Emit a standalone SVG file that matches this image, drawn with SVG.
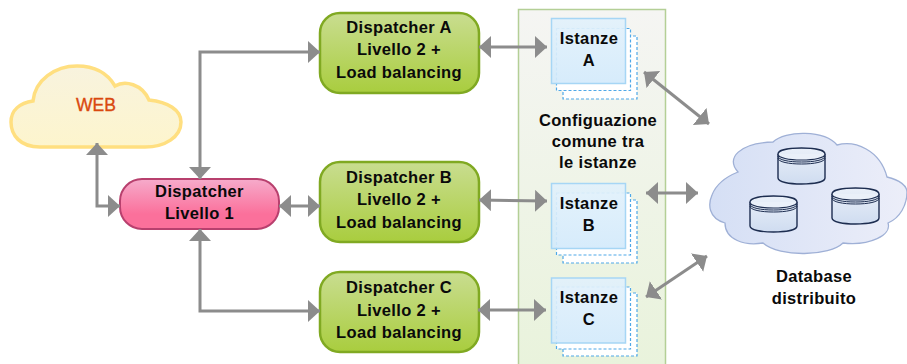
<svg xmlns="http://www.w3.org/2000/svg" width="907" height="364" viewBox="0 0 907 364">
<style>
text{font-family:"Liberation Sans",Arial,sans-serif;text-anchor:middle;fill:#0a0a0a;font-size:16.5px;font-weight:bold;letter-spacing:.35px}
.g{fill:url(#gGreen);stroke:#80a922;stroke-width:2.5}
.conn{fill:none;stroke:#8c8c8c;stroke-width:3;marker-start:url(#ah);marker-end:url(#ah)}
.dash{fill:#fff;stroke:#4ea8e8;stroke-width:1.2;stroke-dasharray:3 2}
.box{fill:url(#gBlue);fill-opacity:.92;stroke:#a6d6f5;stroke-width:1.5}
</style>
<defs>
<linearGradient id="gGreen" x1="0" y1="0" x2="0" y2="1"><stop offset="0" stop-color="#c9dd90"/><stop offset="1" stop-color="#a9cd3e"/></linearGradient>
<linearGradient id="gPink" x1="0" y1="0" x2="0" y2="1"><stop offset="0" stop-color="#f6abcb"/><stop offset=".7" stop-color="#fb709b"/><stop offset="1" stop-color="#fb709b"/></linearGradient>
<linearGradient id="gPanel" x1="0" y1="0" x2="0" y2="1"><stop offset="0" stop-color="#f5f5f3"/><stop offset="1" stop-color="#e9f3dc"/></linearGradient>
<linearGradient id="gWeb" x1="0" y1="0" x2="0" y2="1"><stop offset="0" stop-color="#f8f3de"/><stop offset="1" stop-color="#fdf5cd"/></linearGradient>
<linearGradient id="gBlue" x1="0" y1="0" x2="0" y2="1"><stop offset="0" stop-color="#e2f1fb"/><stop offset="1" stop-color="#d3eafb"/></linearGradient>
<linearGradient id="gDb" x1="0" y1="0" x2="1" y2="0"><stop offset="0" stop-color="#d5dff5"/><stop offset="1" stop-color="#eceef9"/></linearGradient>
<linearGradient id="gCyl" x1="0" y1="0" x2="0" y2="1"><stop offset="0" stop-color="#eaf0f9"/><stop offset="1" stop-color="#cfdcf0"/></linearGradient>
<marker id="ah" viewBox="0 0 12 22" refX="12" refY="11" markerWidth="12" markerHeight="22" markerUnits="userSpaceOnUse" orient="auto-start-reverse"><path d="M0 0L12 11L0 22Z" fill="#8c8c8c"/></marker>
<g id="cyl">
<path d="M0 6C0 2 11 0 23.500 0S47 2 47 6V30C47 34 36 36 23.500 36S0 34 0 30Z" fill="url(#gCyl)" stroke="#1d2d50" stroke-width="1.4"/>
<path d="M0 6C0 10 11 12 23.500 12S47 10 47 6" fill="#eaf0f9" stroke="#1d2d50" stroke-width="1.2"/>
<path d="M0 8C0 12 11 14 23.500 14S47 12 47 8M0 10C0 14 11 16 23.500 16S47 14 47 10" fill="none" stroke="#1d2d50" stroke-width="1"/>
</g>
</defs>

<rect width="907" height="364" fill="#fff"/>

<g id="panel">
<path d="M518.500 364V9.500H665.500V364" fill="url(#gPanel)" stroke="#b4cf96" stroke-width="1.500"/>
<text x="598" y="126">Configuazione</text>
<text x="598" y="147">comune tra</text>
<text x="598" y="168">le istanze</text>
</g>

<g id="web">
<path d="M40 147C20 147 11 135 11 122C11 110 20 103 33 101C35 80 55 66 77 66C95 66 108 74 115 86C125 80 142 84 149 100C168 102 181 110 181 122C181 137 165 147 145 147Z" fill="url(#gWeb)" stroke="#ffdf80" stroke-width="3.500"/>
<text x="96" y="111" style="fill:#d9480f;stroke:#d9480f;stroke-width:.35;font-weight:normal;font-size:17.5px;letter-spacing:0">WEB</text>
</g>

<g id="dispatcher-1">
<rect x="120" y="179" width="159" height="50" rx="22" fill="url(#gPink)" stroke="#b8406e" stroke-width="2"/>
<text x="199.500" y="197">Dispatcher</text>
<text x="199.500" y="219">Livello 1</text>
</g>

<g id="dispatcher-a">
<rect class="g" x="320" y="13" width="159" height="80" rx="20"/>
<text x="399" y="33">Dispatcher A</text>
<text x="399" y="55">Livello 2 +</text>
<text x="399" y="78">Load balancing</text>
</g>
<g id="dispatcher-b">
<rect class="g" x="320" y="162" width="159" height="80" rx="20"/>
<text x="399" y="183">Dispatcher B</text>
<text x="399" y="205">Livello 2 +</text>
<text x="399" y="228">Load balancing</text>
</g>
<g id="dispatcher-c">
<rect class="g" x="320" y="272" width="159" height="80" rx="20"/>
<text x="399" y="293">Dispatcher C</text>
<text x="399" y="316">Livello 2 +</text>
<text x="399" y="338">Load balancing</text>
</g>

<g id="istanze-a">
<rect class="dash" x="563" y="36" width="74" height="63"/>
<rect class="dash" x="556.500" y="28.500" width="74" height="62"/>
<rect class="box" x="551.500" y="18.500" width="74" height="65"/>
<text x="589" y="44">Istanze</text>
<text x="589" y="66">A</text>
</g>
<g id="istanze-b">
<rect class="dash" x="563" y="200" width="74" height="63"/>
<rect class="dash" x="556.500" y="193" width="74" height="62"/>
<rect class="box" x="551.500" y="183.500" width="74" height="65"/>
<text x="589" y="209">Istanze</text>
<text x="589" y="231">B</text>
</g>
<g id="istanze-c">
<rect class="dash" x="563" y="293" width="74" height="63"/>
<rect class="dash" x="556.500" y="287" width="74" height="62"/>
<rect class="box" x="551.500" y="278" width="74" height="65"/>
<text x="589" y="303">Istanze</text>
<text x="589" y="325">C</text>
</g>

<g id="database">
<path d="M725 223C708 218 708 204 712 195C717 182 728 176 738 172C725 158 740 143 773 142C785 130 825 130 837 145C855 140 880 150 887 177C900 180 907 186 907 192C907 205 900 218 888 223C892 235 870 246 843 243C830 256 780 258 763 243C745 246 725 240 725 223Z" fill="url(#gDb)" stroke="#9fb0d6" stroke-width="1.300"/>
<use href="#cyl" x="778" y="148"/>
<use href="#cyl" x="750" y="196"/>
<use href="#cyl" x="832" y="188"/>
<text x="814" y="282">Database</text>
<text x="814" y="304">distribuito</text>
</g>

<g id="connectors">
<path class="conn" d="M97 143V206H120"/>
<path class="conn" d="M200 179V52H320"/>
<path class="conn" d="M200 229V311H320"/>
<path class="conn" d="M279 206H320"/>
<path class="conn" d="M479 47H547"/>
<path class="conn" d="M479 200L547 201"/>
<path class="conn" d="M478 310H546"/>
<path class="conn" d="M644 72L709 124"/>
<path class="conn" d="M646 193H698"/>
<path class="conn" d="M646 297L707 256"/>
</g>
</svg>
